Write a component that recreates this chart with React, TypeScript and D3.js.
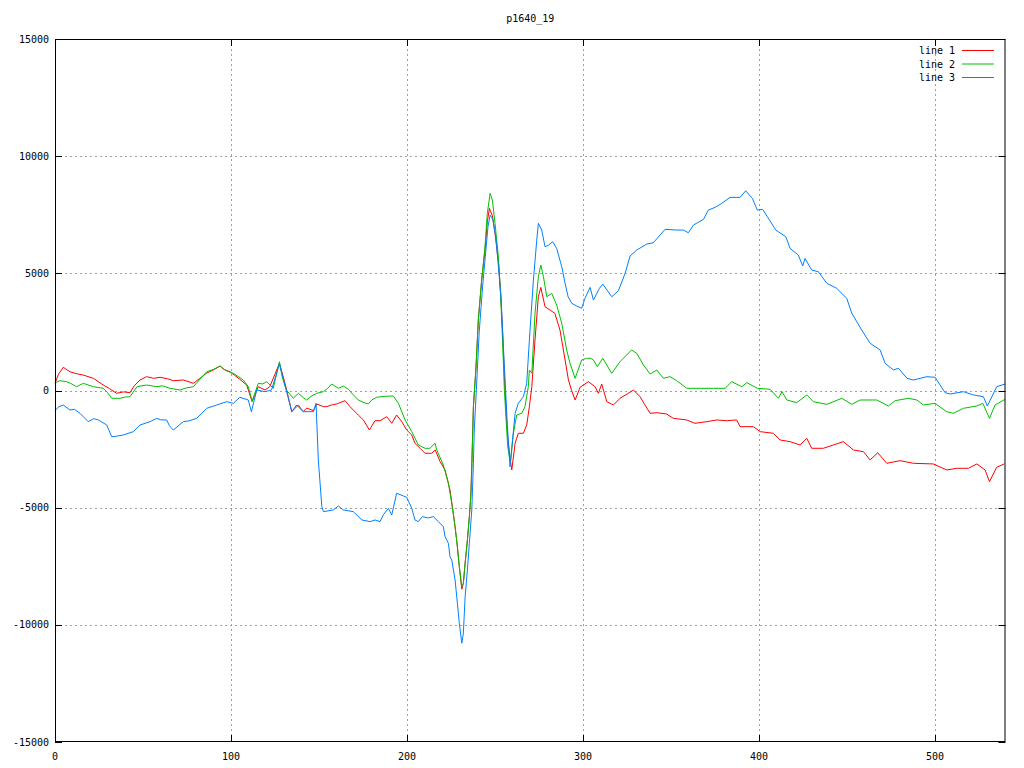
import React from "react";
import * as d3 from "d3";

const chartTitle = "p1640_19";
const xTicks = [0, 100, 200, 300, 400, 500];
const yTicks = [-15000, -10000, -5000, 0, 5000, 10000, 15000];
const seriesNames = ["line 1", "line 2", "line 3"];
const seriesColors = ["#ff0000", "#00c000", "#0080ff"];

const line1: [number, number][] = [
  [0,300],[2,700],[4.7,990],[8.5,800],[12,720],[16,660],[21.8,520],[27.4,235],[31,80],[35,-120],[39,-60],[42.6,-94],[45,200],[48.3,448],[52,590],[56,520],[59.7,563],[64,500],[67.2,418],[72.9,448],[78.6,307],[82,500],[86,733],[90,880],[93.8,1045],[96,900],[99.4,800],[102,650],[105,478],[108.9,235],[112,-478],[115.5,162],[119.3,21],[122,162],[125,700],[127.5,1160],[130.7,307],[134.5,-904],[137.3,-619],[141,-904],[143,-750],[146.8,-861],[148.7,-576],[152.5,-690],[154.4,-690],[157,-620],[160,-576],[164.8,-434],[167.6,-690],[172.3,-1045],[175.2,-1258],[178.6,-1685],[181.8,-1288],[184.7,-1288],[188.5,-1117],[191.3,-1400],[194.1,-1045],[197,-1330],[199.8,-1685],[202.7,-1898],[204.5,-2253],[207.4,-2466],[210.2,-2679],[214,-2679],[216,-2538],[218.8,-3037],[221.6,-3390],[224.4,-4245],[226.3,-5240],[228.2,-6380],[229.7,-7517],[231.1,-8480],[232,-8225],[233,-7372],[234.3,-6380],[235.4,-5382],[236.2,-4530],[236.8,-3106],[237.7,-690],[239.2,1017],[240.5,3008],[242.4,4714],[244.3,6000],[245.6,7200],[246.8,7773],[248.5,7450],[250,6700],[251.9,5500],[253.2,4200],[254.4,2300],[255.3,600],[256.3,-900],[257.2,-2000],[258.5,-2900],[259.5,-3391],[261.4,-2253],[263.2,-1826],[266.1,-1826],[268,-1472],[269.5,-690],[270.9,162],[272.7,2154],[274.6,4002],[276,4400],[278.4,3575],[281.2,3434],[284,3293],[286.9,2581],[289.8,1300],[291.7,448],[293.5,0],[295.5,-405],[298.3,136],[303,376],[306.8,162],[308.7,-120],[310.6,277],[313.5,-478],[317.2,-619],[321,-333],[325,-150],[328.6,21],[332.4,-264],[335,-600],[338.1,-974],[341.9,-947],[347.5,-1003],[351.3,-1187],[358.9,-1258],[363.6,-1400],[370.3,-1330],[376,-1258],[381.6,-1288],[387.3,-1258],[389.2,-1543],[396.8,-1543],[400.6,-1756],[408.1,-1826],[411.9,-2111],[417.6,-2183],[423.3,-2325],[427.1,-2040],[429.9,-2466],[436.5,-2466],[442.2,-2325],[447.9,-2183],[453.6,-2538],[459.3,-2610],[463.1,-2965],[467.4,-2653],[472.5,-3106],[480.1,-2995],[487.7,-3106],[499,-3135],[506.6,-3391],[512.3,-3320],[518.9,-3320],[523.7,-3135],[528.4,-3391],[530.9,-3890],[535,-3277],[539.2,-3135]
];

const line2: [number, number][] = [
  [0,330],[2.8,418],[6.6,376],[9,300],[12.3,162],[16.1,307],[21.8,162],[27.4,94],[30,-100],[32.2,-333],[36.9,-333],[40,-280],[42.6,-264],[46.6,162],[52.1,235],[57.8,162],[61,200],[65.3,94],[71,21],[74,100],[78.6,162],[82,450],[86.2,800],[90,900],[93.8,1045],[97,850],[101.3,733],[104,600],[107,448],[109.8,162],[112,-448],[115.5,307],[118,280],[120.3,376],[124,94],[127.5,1230],[129,600],[131.4,21],[135.4,-333],[138.3,-120],[141,-300],[143,-405],[145.5,-250],[148.7,-120],[152.5,-50],[155,100],[157.2,277],[161,94],[163.8,192],[166.7,50],[169,-150],[172.3,-405],[175,-500],[178,-576],[180,-400],[182.8,-290],[187,-250],[192.2,-235],[195.1,-547],[198.9,-1258],[202.7,-1756],[206.4,-2325],[210.2,-2466],[213,-2466],[215.9,-2253],[216.9,-2538],[220.6,-3178],[223.5,-3960],[225.4,-4812],[227.3,-5810],[228.6,-6663],[229.7,-7517],[231.1,-8370],[232,-8225],[233,-7372],[234.3,-6380],[235.4,-5382],[236.2,-4530],[236.7,-3677],[237.7,-690],[239.2,1017],[240.5,3008],[242.4,4714],[244.3,6134],[245.6,7560],[247.2,8412],[248.5,8127],[250,7133],[251.9,5708],[253.2,4002],[254.4,1869],[255.3,0],[256.3,-1258],[257.2,-2397],[258.1,-2823],[258.8,-3050],[260.4,-1826],[262.3,-1045],[265.2,-974],[267,-690],[268.9,162],[269.5,875],[270.9,733],[272.7,3293],[274.6,4855],[276,5354],[277.5,4855],[279.4,4002],[282.2,4146],[285,3648],[287.9,2867],[290.7,1728],[292.6,1160],[295.5,520],[299.2,1300],[302,1373],[304.4,1373],[305.9,1300],[308.1,1017],[311.2,1373],[316.3,733],[321,1230],[327.6,1728],[330.5,1585],[334.3,1088],[338.1,704],[341.9,875],[345.6,520],[349.4,590],[353.2,418],[358.9,94],[366.5,94],[374,94],[380.7,94],[384.5,376],[390.2,162],[393,333],[399.1,94],[406.3,50],[411,-333],[413,-50],[415.8,-405],[421.4,-519],[427.1,-192],[430.9,-478],[438.5,-590],[447,-333],[452.7,-590],[457.4,-405],[466.9,-405],[473.5,-661],[477.3,-434],[484.9,-333],[489.6,-405],[493.4,-619],[500,-547],[506.6,-904],[510.4,-974],[516.1,-760],[523.7,-661],[527.1,-547],[530.9,-1187],[534.1,-619],[539.8,-376]
];

const line3: [number, number][] = [
  [0,-861],[2,-700],[4.7,-619],[8.5,-832],[11,-800],[14.2,-974],[18.9,-1330],[22,-1200],[24.6,-1258],[29.4,-1472],[32.2,-1971],[35,-1950],[38.8,-1898],[44.5,-1756],[48.3,-1472],[54,-1330],[57.8,-1187],[60,-1250],[63.4,-1258],[65,-1500],[67.2,-1685],[72.9,-1330],[76,-1300],[80.5,-1187],[83,-1000],[86.2,-760],[91.9,-619],[97.5,-478],[101.3,-547],[105,-290],[109.8,-405],[111.6,-904],[114.6,21],[119.3,-50],[123,21],[127.5,1130],[131.4,21],[134.5,-904],[138.3,-619],[141,-904],[146.8,-904],[148.3,-547],[149.6,-2965],[151.6,-4957],[152.5,-5170],[158.1,-5098],[161,-4927],[163.8,-5098],[169.5,-5170],[174.3,-5524],[179,-5596],[181.8,-5524],[184.7,-5596],[186.5,-5311],[189.4,-5026],[191.3,-5311],[194.1,-4386],[197.9,-4500],[199.8,-4557],[202.7,-5026],[204.5,-5524],[206.4,-5596],[208.7,-5382],[212.1,-5440],[214.9,-5380],[217.8,-5596],[220.6,-5810],[221.6,-6237],[223.5,-6520],[224.4,-7090],[225.4,-7230],[227.3,-8084],[228.6,-9080],[229.7,-9932],[231.1,-10785],[232,-10358],[233,-8797],[234.3,-7658],[235.4,-6519],[236.8,-5098],[237.7,-3106],[238.2,-1685],[239.7,500],[241,2500],[243,4500],[244.8,6000],[246,7000],[247.2,7487],[248.8,7300],[250.5,6500],[252,5200],[253.5,3800],[254.8,1800],[256,0],[257,-1500],[258.5,-3250],[261.4,-974],[263.2,-547],[266.1,-264],[268,307],[269.5,2154],[271.8,4714],[273.7,6420],[274.6,7133],[276.5,6847],[278.4,6134],[280.3,6200],[282.8,6348],[285,6066],[287.9,5281],[289.8,4573],[291.5,4000],[293.6,3720],[296.5,3600],[299.2,3507],[301.1,3933],[304,4400],[305.9,3861],[309.3,4360],[311.2,4543],[316.3,4002],[320.1,4258],[323.9,5000],[326.7,5738],[330.5,5994],[336.2,6250],[339.9,6305],[346.6,6877],[353.2,6847],[357,6847],[359.8,6732],[362.7,7060],[368.4,7303],[371.2,7700],[375,7815],[378.8,7986],[383.5,8242],[389.2,8242],[392.4,8524],[396.2,8199],[399,7700],[402,7730],[404.7,7414],[409.5,6847],[415.2,6561],[417.6,6066],[422.3,5780],[424.8,5311],[426.1,5638],[429.9,5140],[433.7,5068],[438.5,4573],[444.1,4360],[449.8,3933],[452.7,3293],[458.3,2581],[463.1,2014],[468.8,1728],[471.6,1160],[476.3,875],[479.2,947],[484,520],[487.7,448],[495.3,590],[500,563],[505.7,-94],[508.5,-150],[516.1,-50],[521.8,-192],[527.4,-264],[529.7,-661],[535,162],[539.8,277]
];

const allSeries = [line1, line2, line3];

const W = 1024;
const H = 768;
const L = 55;
const R = 1005.5;
const T = 39;
const B = 742;
const FONT = "'DejaVu Sans Mono', monospace";

export default function App() {
  const x = d3.scaleLinear().domain([0, 540]).range([L, R]);
  const y = d3.scaleLinear().domain([-15000, 15000]).range([B, T]);
  const gen = d3
    .line<[number, number]>()
    .x((d) => x(d[0]))
    .y((d) => y(d[1]));
  const tickLen = 7;

  return (
    <svg
      width={W}
      height={H}
      style={{ position: "absolute", top: 0, left: 0, background: "#fff" }}
      fontFamily={FONT}
      fontSize={10}
    >
      <rect x={0} y={0} width={W} height={H} fill="#fff" />
      {/* grid */}
      {xTicks.slice(1).map((t) => (
        <line
          key={"gx" + t}
          x1={Math.round(x(t)) + 0.5}
          x2={Math.round(x(t)) + 0.5}
          y1={T}
          y2={B}
          stroke="#a0a0a0"
          strokeDasharray="2,3"
        />
      ))}
      {yTicks.slice(1, -1).map((t) => (
        <line
          key={"gy" + t}
          x1={L}
          x2={R}
          y1={Math.round(y(t)) + 0.5}
          y2={Math.round(y(t)) + 0.5}
          stroke="#a0a0a0"
          strokeDasharray="2,3"
        />
      ))}
      {/* ticks */}
      {xTicks.map((t) => (
        <g key={"tx" + t}>
          <line x1={Math.round(x(t)) + 0.5} x2={Math.round(x(t)) + 0.5} y1={B} y2={B - tickLen} stroke="#000" />
          <line x1={Math.round(x(t)) + 0.5} x2={Math.round(x(t)) + 0.5} y1={T} y2={T + tickLen} stroke="#000" />
          <text x={x(t)} y={760} textAnchor="middle" fill="#000">
            {t}
          </text>
        </g>
      ))}
      {yTicks.map((t) => (
        <g key={"ty" + t}>
          <line x1={L} x2={L + tickLen} y1={Math.round(y(t)) + 0.5} y2={Math.round(y(t)) + 0.5} stroke="#000" />
          <line x1={R} x2={R - tickLen} y1={Math.round(y(t)) + 0.5} y2={Math.round(y(t)) + 0.5} stroke="#000" />
          <text x={49} y={y(t) + 3.5} textAnchor="end" fill="#000">
            {t}
          </text>
        </g>
      ))}
      {/* series */}
      {allSeries.map((s, i) => (
        <path key={"s" + i} d={gen(s) || ""} fill="none" stroke={seriesColors[i]} strokeWidth={1} />
      ))}
      {/* frame */}
      <rect x={L + 0.5} y={T + 0.5} width={R - L - 1} height={B - T - 1} fill="none" stroke="#000" />
      {/* title */}
      <text x={(L + R) / 2} y={22} textAnchor="middle" fill="#000">
        {chartTitle}
      </text>
      {/* legend */}
      {seriesNames.map((n, i) => (
        <g key={"lg" + i}>
          <text x={955} y={50.5 + i * 13.5 + 3.5} textAnchor="end" fill="#000">
            {n}
          </text>
          <line x1={962} x2={994} y1={50.5 + i * 13.5} y2={50.5 + i * 13.5} stroke={seriesColors[i]} />
        </g>
      ))}
    </svg>
  );
}
